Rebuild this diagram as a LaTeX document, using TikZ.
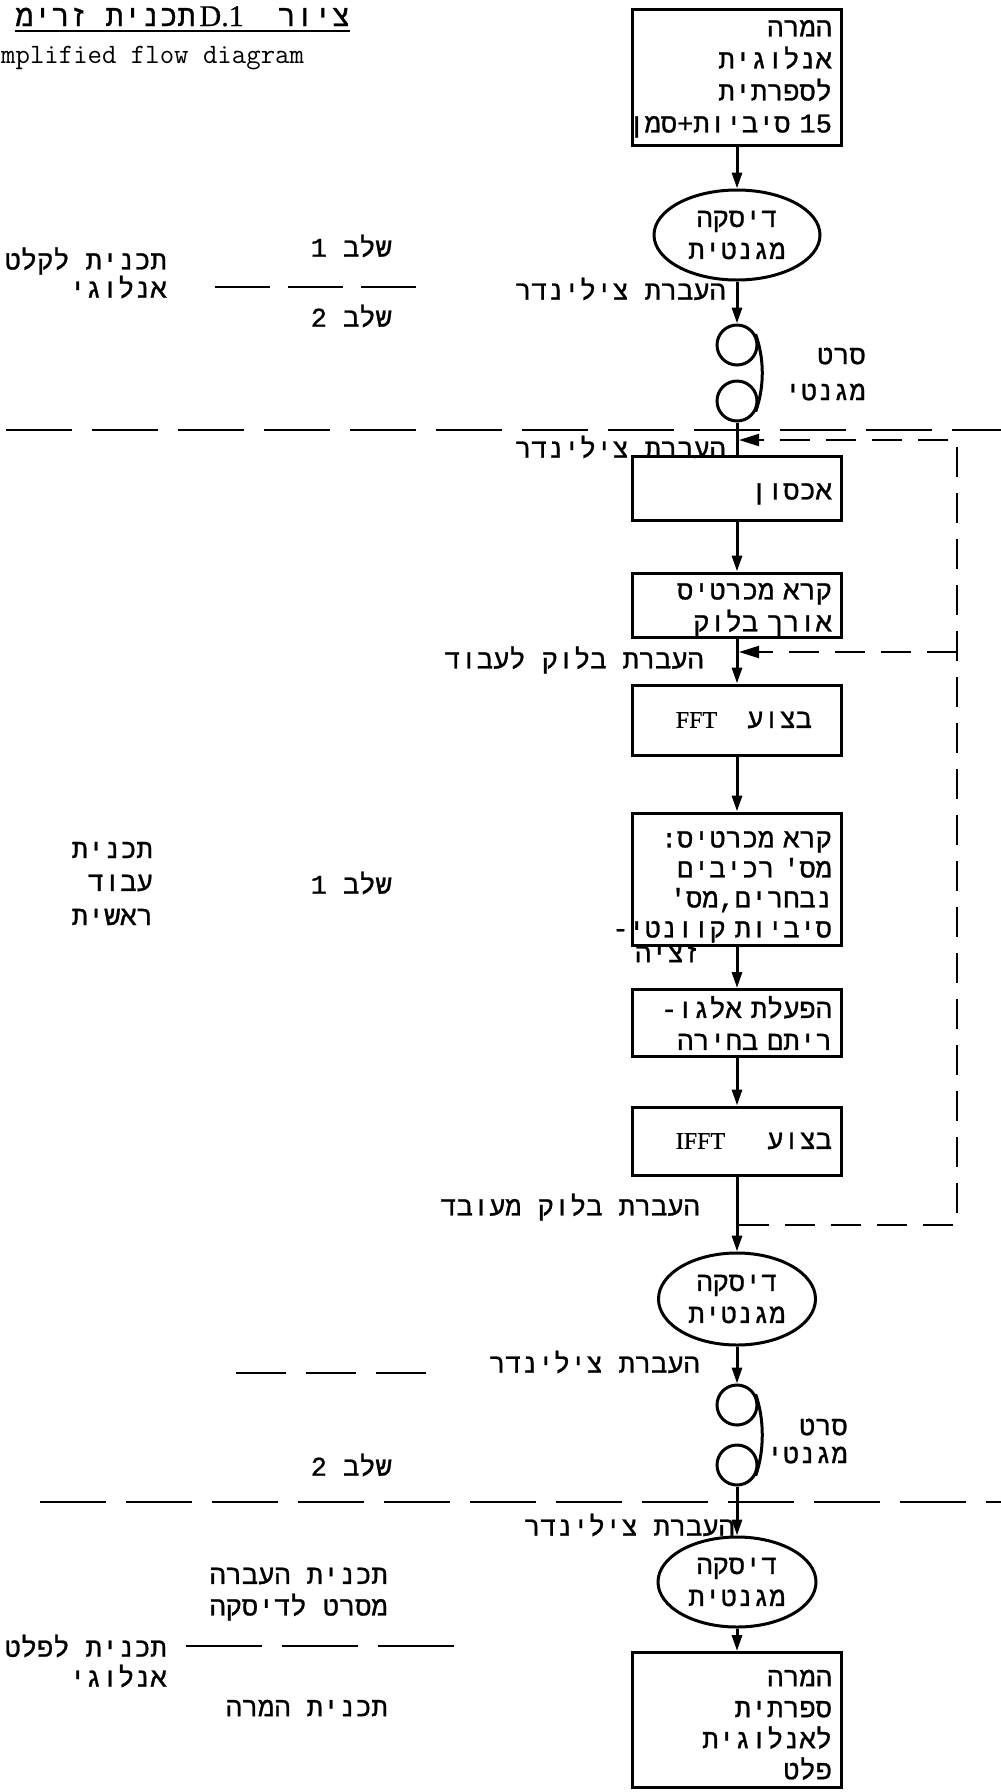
\documentclass[tikz,border=0pt]{standalone}
\usepackage{fontspec}
\usepackage{tikz}
\usetikzlibrary{shapes.geometric,arrows.meta,positioning,calc}
\TeXXeTstate=1
\newfontfamily\hebfont[Script=Hebrew,FakeBold=1]{Liberation Mono}
\newfontfamily\latserif[FakeBold=0.6]{Liberation Serif}
\newcommand{\heb}[1]{{\hebfont\beginR #1\endR}}
\newcommand{\ltr}[1]{\beginL #1\endL{}}
\newcommand{\cut}{\kern0pt{}}
\newcommand{\spill}[1]{\hskip 0pt plus 1filll\llap{#1}}
\newcommand{\padtop}[1]{\rule{0pt}{#1}}
\newcommand{\hebsize}{\fontsize{27}{32}\selectfont}

\begin{document}
\begin{tikzpicture}[x=1pt,y=-1pt,
  flow/.style={line width=3pt},
  flowarrow/.style={flow,-{Triangle[length=16pt,width=10pt]}},
  procbox/.style={draw,line width=3pt,minimum width=209pt,inner sep=0pt,text width=190pt,align=right,font=\hebsize},
  disk/.style={draw,ellipse,line width=3pt,inner sep=0pt,minimum width=166pt,minimum height=90pt,align=center,font=\hebsize},
  reel/.style={draw,circle,line width=3pt,minimum size=40pt,inner sep=0pt},
  lbl/.style={anchor=east,inner sep=0pt,font=\hebsize},
  sepline/.style={line width=2pt,dash pattern=on 66pt off 20pt},
  lbldash/.style={line width=2pt},
  fbline/.style={line width=2pt,dash pattern=on 30pt off 16pt},
  fbarrow/.style={fbline,-{Triangle[length=20pt,width=12pt]}}]
\useasboundingbox (0,0) rectangle (1001,1792);
% Title
\node[anchor=base east,inner sep=0pt,font=\fontsize{30}{34}\selectfont] (title) at (350,26)
  {\heb{ציור\hspace{34pt}\ltr{{\latserif D.1}}\hspace{4pt}תכנית זרימ}};
\draw[line width=1.5pt] ($(title.base west)+(0,5)$) -- ($(title.base east)+(0,5)$);
\node[anchor=base west,inner sep=0pt,font=\ttfamily\fontsize{28}{32}\selectfont] (subtitle) at (1,63)
  {mplified flow diagram};
% Stage 1: analog input
\node[procbox,minimum height=136pt] (convA) at (737,77)
  {\padtop{20pt}\heb{המרה}\\\heb{אנלוגית}\\\heb{לספרתית}\\\spill{\heb{\ltr{15} סיביות\cut+\cut סמן}}};
\node[disk] (diskA) at (737,235) {\heb{דיסקה}\\\heb{מגנטית}};
\node[reel] (reelA) at (737,345) {};
\node[reel] (reelB) at (737,401) {};
\draw[flow] (reelA.30) .. controls ($(reelA.east)+(6,14)$) and ($(reelB.east)+(6,-14)$) .. (reelB.-30);
\draw[flowarrow] (convA) -- (diskA);
\draw[flowarrow] (diskA) -- (reelA);
\node[lbl] (cylA) at (726,289) {\heb{העברת צילינדר}};
\node[lbl] (inProgA) at (167,261) {\heb{תכנית לקלט}};
\node[lbl] (inProgB) at (167,287) {\heb{אנלוגי}};
\node[lbl] (stageA1) at (392,246) {\heb{שלב \ltr{1}}};
\node[lbl] (stageA2) at (392,316) {\heb{שלב \ltr{2}}};
\node[lbl] (tapeA1) at (866,356) {\heb{סרט}};
\node[lbl] (tapeA2) at (866,392) {\heb{מגנטי}};
\coordinate (inDashW) at (215,287);
\coordinate (inDashE) at (416,287);
\draw[lbldash,dash pattern=on 55pt off 18pt] (inDashW) -- (inDashE);
% Separator
\coordinate (sepAw) at (6,430);
\coordinate (sepAe) at (1001,430);
\draw[sepline] (sepAw) -- (sepAe);
% Main processing
\node[procbox,minimum height=64pt] (store) at (737,488) {\padtop{28pt}\heb{אכסון}};
\node[procbox,minimum height=64pt] (readLen) at (737,605)
  {\padtop{26pt}\heb{קרא מכרטיס}\\\heb{אורך בלוק}};
\node[procbox,minimum height=70pt] (fft) at (737,720)
  {\heb{\kern20pt בצוע\hspace{30pt}{\latserif\fontsize{24}{26}\selectfont FFT}}};
\node[procbox,minimum height=132pt,font=\fontsize{27}{30}\selectfont] (readPar) at (737,879)
  {\padtop{32pt}\heb{קרא מכרטיס\cut:}\\\heb{מס\cut' רכיבים}\\\heb{נבחרים\cut,\cut מס\cut'}\\
   \spill{\heb{סיביות קוונטי\cut-}}};
\node[lbl] (quantTail) at (700,954) {\heb{זציה}};
\node[procbox,minimum height=67pt] (select) at (737,1023)
  {\heb{הפעלת אלגו\cut-}\\\heb{ריתם בחירה}};
\node[procbox,minimum height=68pt] (ifft) at (737,1141)
  {\heb{בצוע\hspace{42pt}{\latserif\fontsize{24}{26}\selectfont IFFT}}};
\draw[flow] (reelB) -- (store);
\draw[flowarrow] (store) -- (readLen);
\draw[flowarrow] (readLen) -- (fft);
\draw[flowarrow] (fft) -- (readPar);
\draw[flowarrow] (readPar) -- (select);
\draw[flowarrow] (select) -- (ifft);
\node[lbl] (cylB) at (726,447) {\heb{העברת צילינדר}};
\node[lbl] (blockIn) at (704,660) {\heb{העברת בלוק לעבוד}};
\node[lbl] (blockOut) at (700,1207) {\heb{העברת בלוק מעובד}};
\node[lbl] (mainProgA) at (153,850) {\heb{תכנית}};
\node[lbl] (mainProgB) at (153,883) {\heb{עבוד}};
\node[lbl] (mainProgC) at (153,917) {\heb{ראשית}};
\node[lbl] (stageB) at (392,883) {\heb{שלב \ltr{1}}};
% Block loop
\coordinate (fbTopR) at (957,440);
\coordinate (fbMidR) at (957,652);
\coordinate (fbBotR) at (957,1225);
\coordinate (fbTopIn) at (739,440);
\coordinate (fbMidIn) at (739,652);
\coordinate (fbBotOut) at (739,1225);
\draw[fbarrow] (fbBotOut) -- (fbBotR) -- (fbTopR) -- (fbTopIn);
\draw[fbarrow] (fbMidR) -- (fbMidIn);
% Stage 2: back to tape
\node[disk,minimum width=157pt,minimum height=92pt] (diskB) at (737,1299) {\heb{דיסקה}\\\heb{מגנטית}};
\node[reel] (reelC) at (737,1405) {};
\node[reel] (reelD) at (737,1465) {};
\draw[flow] (reelC.30) .. controls ($(reelC.east)+(6,14)$) and ($(reelD.east)+(6,-14)$) .. (reelD.-30);
\draw[flowarrow] (ifft) -- (diskB);
\draw[flowarrow] (diskB) -- (reelC);
\node[lbl] (cylC) at (700,1362) {\heb{העברת צילינדר}};
\coordinate (cylDashW) at (236,1373);
\coordinate (cylDashE) at (426,1373);
\draw[lbldash,dash pattern=on 50pt off 20pt] (cylDashW) -- (cylDashE);
\node[lbl] (tapeB1) at (848,1427) {\heb{סרט}};
\node[lbl] (tapeB2) at (848,1455) {\heb{מגנטי}};
\node[lbl] (stageC) at (392,1465) {\heb{שלב \ltr{2}}};
\coordinate (sepBw) at (40,1502);
\coordinate (sepBe) at (1001,1502);
\draw[sepline] (sepBw) -- (sepBe);
% Analog output
\node[disk,minimum width=158pt] (diskC) at (737,1582) {\heb{דיסקה}\\\heb{מגנטית}};
\node[procbox,minimum height=135pt,font=\fontsize{27}{31}\selectfont] (convD) at (737,1720)
  {\padtop{26pt}\heb{המרה}\\\heb{ספרתית}\\\heb{לאנלוגית}\\\heb{פלט}};
\draw[flowarrow] (reelD) -- (diskC);
\draw[flowarrow] (diskC) -- (convD);
\node[lbl] (cylD) at (735,1525) {\heb{העברת צילינדר}};
\node[lbl] (xferA) at (388,1576) {\heb{תכנית העברה}};
\node[lbl] (xferB) at (388,1607) {\heb{מסרט לדיסקה}};
\node[lbl] (outProgA) at (167,1646) {\heb{תכנית לפלט}};
\node[lbl] (outProgB) at (167,1676) {\heb{אנלוגי}};
\node[lbl] (convProg) at (388,1708) {\heb{תכנית המרה}};
\coordinate (outDashW) at (186,1646);
\coordinate (outDashE) at (455,1646);
\draw[lbldash,dash pattern=on 76pt off 20pt] (outDashW) -- (outDashE);
\end{tikzpicture}
\end{document}
